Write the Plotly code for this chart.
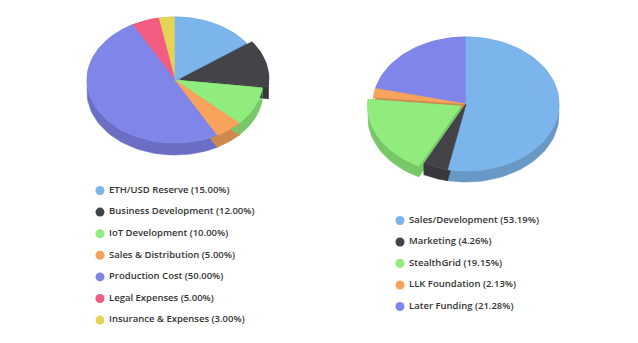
import math
import plotly.graph_objects as go

# ---------------- data ----------------
left_labels = ["ETH/USD Reserve", "Business Development", "IoT Development",
               "Sales & Distribution", "Production Cost", "Legal Expenses",
               "Insurance & Expenses"]
left_values = [15.00, 12.00, 10.00, 5.00, 50.00, 5.00, 3.00]
left_sliced = [False, True, False, False, False, False, False]

right_labels = ["Sales/Development", "Marketing", "StealthGrid",
                "LLK Foundation", "Later Funding"]
right_values = [53.19, 4.26, 19.15, 2.13, 21.28]
right_sliced = [False, False, True, False, False]

palette = ["#7cb5ec", "#434348", "#90ed7d", "#f7a35c", "#8085e9",
           "#f15c80", "#e4d354"]

W, H = 638, 343


def darken(hexc, f=0.86):
    h = hexc.lstrip("#")
    r, g, b = (int(h[i:i + 2], 16) for i in (0, 2, 4))
    return "rgb(%d,%d,%d)" % (r * f, g * f, b * f)


fig = go.Figure()


def pie3d(values, sliced, cx, cy, rx, ry, depth, offset):
    total = sum(values)
    slices = []
    a0 = 0.0
    for i, v in enumerate(values):
        a1 = a0 + 2 * math.pi * v / total
        mid = (a0 + a1) / 2
        ox = oy = 0.0
        if sliced[i]:
            ox = offset * math.sin(mid)
            oy = -offset * math.cos(mid) * ry / rx
        ccx, ccy = cx + ox, cy + oy
        n = max(3, int(120 * v / total) + 2)
        arc = [a0 + (a1 - a0) * k / n for k in range(n + 1)]
        px = [ccx + rx * math.sin(t) for t in arc]
        py = [ccy - ry * math.cos(t) for t in arc]
        slices.append(dict(i=i, mid=mid, ccx=ccx, ccy=ccy, px=px, py=py))
        a0 = a1

    # sides, back to front
    for s in sorted(slices, key=lambda s: -math.cos(s["mid"])):
        col = palette[s["i"]]
        px, py, ccx, ccy = s["px"], s["py"], s["ccx"], s["ccy"]
        xs, ys = [], []
        # radial faces
        for (ex, ey) in [(px[0], py[0]), (px[-1], py[-1])]:
            xs += [ccx, ex, ex, ccx, None]
            ys += [ccy, ey, ey + depth, ccy + depth, None]
        # outer band
        xs += px + px[::-1] + [None]
        ys += py + [y + depth for y in py[::-1]] + [None]
        fig.add_trace(go.Scatter(x=xs, y=ys, mode="lines", fill="toself",
                                 fillcolor=darken(col, 0.84),
                                 line=dict(color=darken(col, 0.84), width=0.6),
                                 hoverinfo="skip", showlegend=False))
    # tops
    for s in sorted(slices, key=lambda s: -math.cos(s["mid"])):
        col = palette[s["i"]]
        xs = [s["ccx"]] + s["px"] + [s["ccx"]]
        ys = [s["ccy"]] + s["py"] + [s["ccy"]]
        fig.add_trace(go.Scatter(x=xs, y=ys, mode="lines", fill="toself",
                                 fillcolor=col, line=dict(color=col, width=0.6),
                                 hoverinfo="skip", showlegend=False))


pie3d(left_values, left_sliced, cx=175, cy=80, rx=88, ry=63, depth=12, offset=6)
pie3d(right_values, right_sliced, cx=466, cy=104, rx=93, ry=67, depth=11, offset=6)


def legend(labels, values, mx, y0, step):
    ys = [y0 + step * k for k in range(len(labels))]
    cols = palette[:len(labels)]
    fig.add_trace(go.Scatter(x=[mx] * len(labels), y=ys, mode="markers",
                             marker=dict(size=9, color=cols),
                             hoverinfo="skip", showlegend=False))
    texts = ["%s (%.2f%%)" % (l, v) for l, v in zip(labels, values)]
    fig.add_trace(go.Scatter(x=[mx + 9] * len(labels), y=ys, mode="text",
                             text=texts, textposition="middle right",
                             textfont=dict(family="Open Sans", size=9.5,
                                           color="#333333", weight=600),
                             hoverinfo="skip", showlegend=False))


legend(left_labels, left_values, 100, 190.5, 21.6)
legend(right_labels, right_values, 400, 220.5, 21.5)

fig.update_layout(
    width=W, height=H, margin=dict(l=0, r=0, t=0, b=0),
    paper_bgcolor="white", plot_bgcolor="white", showlegend=False,
    xaxis=dict(range=[0, W], visible=False, fixedrange=True),
    yaxis=dict(range=[H, 0], visible=False, fixedrange=True),
)
fig.write_html("out.html")
